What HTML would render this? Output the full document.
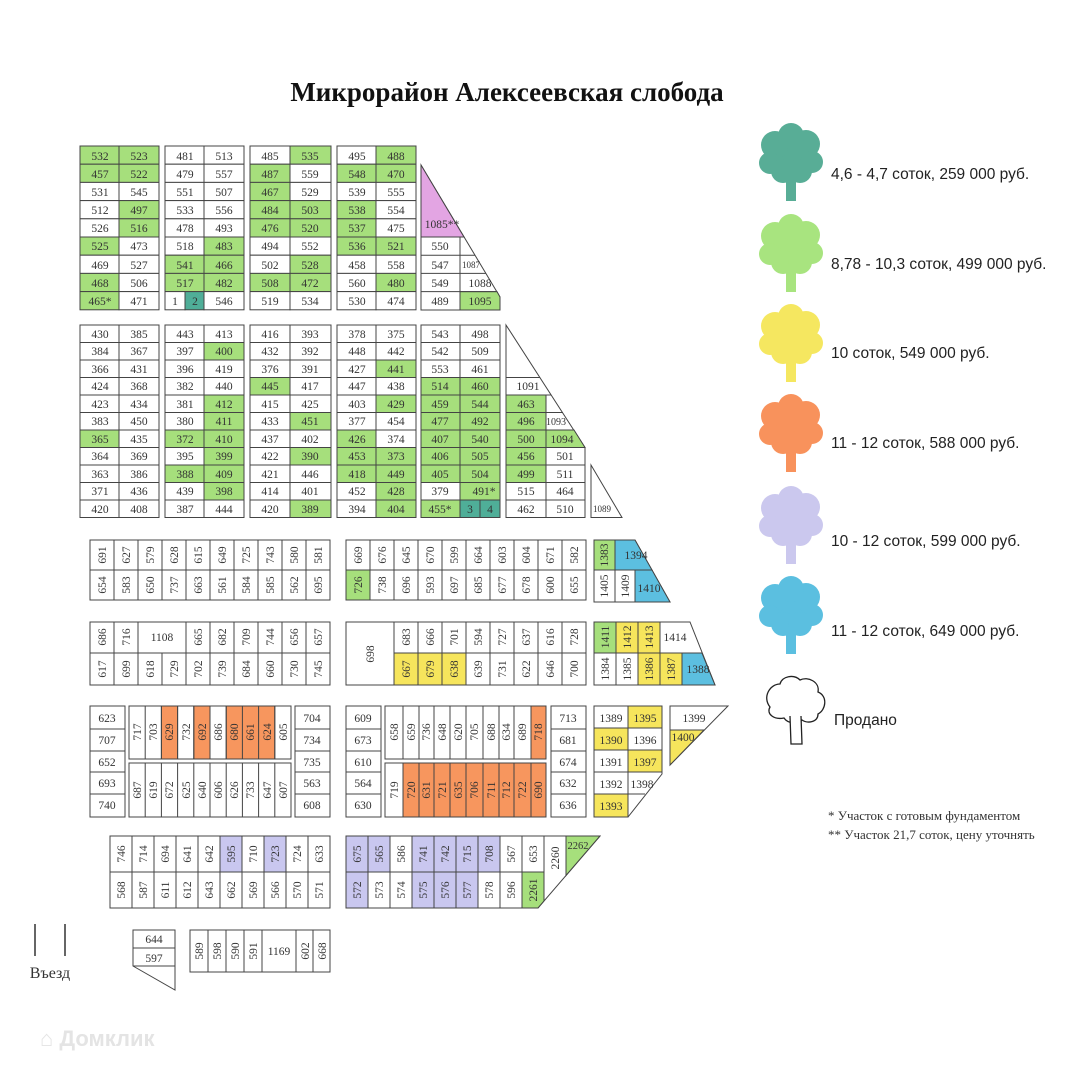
<!DOCTYPE html>
<html><head><meta charset="utf-8"><style>
body{margin:0;background:#fff}
svg{display:block}
rect,polygon{fill:#fff;stroke:#444;stroke-width:1}
.g{fill:#a6df7c}.t{fill:#4fae98}.p{fill:#e3a5e3}.y{fill:#f6e55c}.o{fill:#f7965e}.l{fill:#c9c7ef}.b{fill:#5cbfe0}
text{font-family:"Liberation Serif",serif;font-size:11.5px;text-anchor:middle;fill:#333}
.lg{font-family:"Liberation Sans",sans-serif;font-size:15.5px;text-anchor:start;fill:#222}
.s{font-size:9px}
</style></head><body>
<svg width="1080" height="1080" viewBox="0 0 1080 1080" xmlns="http://www.w3.org/2000/svg">
<text x="507" y="101" style="font-family:'Liberation Serif',serif;font-size:27px;font-weight:bold;fill:#111">Микрорайон Алексеевская слобода</text>

<!-- Section 1 -->
<g>
<rect class="g" x="80" y="146" width="39" height="18.2"/><rect class="g" x="119" y="146" width="40" height="18.2"/>
<rect class="g" x="80" y="164.2" width="39" height="18.2"/><rect class="g" x="119" y="164.2" width="40" height="18.2"/>
<rect x="80" y="182.4" width="39" height="18.2"/><rect x="119" y="182.4" width="40" height="18.2"/>
<rect x="80" y="200.6" width="39" height="18.2"/><rect class="g" x="119" y="200.6" width="40" height="18.2"/>
<rect x="80" y="218.8" width="39" height="18.2"/><rect class="g" x="119" y="218.8" width="40" height="18.2"/>
<rect class="g" x="80" y="237" width="39" height="18.2"/><rect x="119" y="237" width="40" height="18.2"/>
<rect x="80" y="255.2" width="39" height="18.2"/><rect x="119" y="255.2" width="40" height="18.2"/>
<rect class="g" x="80" y="273.4" width="39" height="18.2"/><rect x="119" y="273.4" width="40" height="18.2"/>
<rect class="g" x="80" y="291.6" width="39" height="18.2"/><rect x="119" y="291.6" width="40" height="18.2"/>
<text x="100" y="160">532</text><text x="139" y="160">523</text>
<text x="100" y="178">457</text><text x="139" y="178">522</text>
<text x="100" y="196">531</text><text x="139" y="196">545</text>
<text x="100" y="214">512</text><text x="139" y="214">497</text>
<text x="100" y="232">526</text><text x="139" y="232">516</text>
<text x="100" y="250">525</text><text x="139" y="250">473</text>
<text x="100" y="269">469</text><text x="139" y="269">527</text>
<text x="100" y="287">468</text><text x="139" y="287">506</text>
<text x="100" y="305">465*</text><text x="139" y="305">471</text>

<rect x="165" y="146" width="39" height="18.2"/><rect x="204" y="146" width="40" height="18.2"/>
<rect x="165" y="164.2" width="39" height="18.2"/><rect x="204" y="164.2" width="40" height="18.2"/>
<rect x="165" y="182.4" width="39" height="18.2"/><rect x="204" y="182.4" width="40" height="18.2"/>
<rect x="165" y="200.6" width="39" height="18.2"/><rect x="204" y="200.6" width="40" height="18.2"/>
<rect x="165" y="218.8" width="39" height="18.2"/><rect x="204" y="218.8" width="40" height="18.2"/>
<rect x="165" y="237" width="39" height="18.2"/><rect class="g" x="204" y="237" width="40" height="18.2"/>
<rect class="g" x="165" y="255.2" width="39" height="18.2"/><rect class="g" x="204" y="255.2" width="40" height="18.2"/>
<rect class="g" x="165" y="273.4" width="39" height="18.2"/><rect class="g" x="204" y="273.4" width="40" height="18.2"/>
<rect x="165" y="291.6" width="20" height="18.2"/><rect class="t" x="185" y="291.6" width="19" height="18.2"/><rect x="204" y="291.6" width="40" height="18.2"/>
<text x="185" y="160">481</text><text x="224" y="160">513</text>
<text x="185" y="178">479</text><text x="224" y="178">557</text>
<text x="185" y="196">551</text><text x="224" y="196">507</text>
<text x="185" y="214">533</text><text x="224" y="214">556</text>
<text x="185" y="232">478</text><text x="224" y="232">493</text>
<text x="185" y="250">518</text><text x="224" y="250">483</text>
<text x="185" y="269">541</text><text x="224" y="269">466</text>
<text x="185" y="287">517</text><text x="224" y="287">482</text>
<text x="175" y="305">1</text><text x="195" y="305">2</text><text x="224" y="305">546</text>

<rect x="250" y="146" width="40" height="18.2"/><rect class="g" x="290" y="146" width="41" height="18.2"/>
<rect class="g" x="250" y="164.2" width="40" height="18.2"/><rect x="290" y="164.2" width="41" height="18.2"/>
<rect class="g" x="250" y="182.4" width="40" height="18.2"/><rect x="290" y="182.4" width="41" height="18.2"/>
<rect class="g" x="250" y="200.6" width="40" height="18.2"/><rect class="g" x="290" y="200.6" width="41" height="18.2"/>
<rect class="g" x="250" y="218.8" width="40" height="18.2"/><rect class="g" x="290" y="218.8" width="41" height="18.2"/>
<rect x="250" y="237" width="40" height="18.2"/><rect x="290" y="237" width="41" height="18.2"/>
<rect x="250" y="255.2" width="40" height="18.2"/><rect class="g" x="290" y="255.2" width="41" height="18.2"/>
<rect class="g" x="250" y="273.4" width="40" height="18.2"/><rect class="g" x="290" y="273.4" width="41" height="18.2"/>
<rect x="250" y="291.6" width="40" height="18.2"/><rect x="290" y="291.6" width="41" height="18.2"/>
<text x="270" y="160">485</text><text x="310" y="160">535</text>
<text x="270" y="178">487</text><text x="310" y="178">559</text>
<text x="270" y="196">467</text><text x="310" y="196">529</text>
<text x="270" y="214">484</text><text x="310" y="214">503</text>
<text x="270" y="232">476</text><text x="310" y="232">520</text>
<text x="270" y="250">494</text><text x="310" y="250">552</text>
<text x="270" y="269">502</text><text x="310" y="269">528</text>
<text x="270" y="287">508</text><text x="310" y="287">472</text>
<text x="270" y="305">519</text><text x="310" y="305">534</text>

<rect x="337" y="146" width="39" height="18.2"/><rect class="g" x="376" y="146" width="40" height="18.2"/>
<rect class="g" x="337" y="164.2" width="39" height="18.2"/><rect class="g" x="376" y="164.2" width="40" height="18.2"/>
<rect x="337" y="182.4" width="39" height="18.2"/><rect x="376" y="182.4" width="40" height="18.2"/>
<rect class="g" x="337" y="200.6" width="39" height="18.2"/><rect x="376" y="200.6" width="40" height="18.2"/>
<rect class="g" x="337" y="218.8" width="39" height="18.2"/><rect x="376" y="218.8" width="40" height="18.2"/>
<rect class="g" x="337" y="237" width="39" height="18.2"/><rect class="g" x="376" y="237" width="40" height="18.2"/>
<rect x="337" y="255.2" width="39" height="18.2"/><rect x="376" y="255.2" width="40" height="18.2"/>
<rect x="337" y="273.4" width="39" height="18.2"/><rect class="g" x="376" y="273.4" width="40" height="18.2"/>
<rect x="337" y="291.6" width="39" height="18.2"/><rect x="376" y="291.6" width="40" height="18.2"/>
<text x="357" y="160">495</text><text x="396" y="160">488</text>
<text x="357" y="178">548</text><text x="396" y="178">470</text>
<text x="357" y="196">539</text><text x="396" y="196">555</text>
<text x="357" y="214">538</text><text x="396" y="214">554</text>
<text x="357" y="232">537</text><text x="396" y="232">475</text>
<text x="357" y="250">536</text><text x="396" y="250">521</text>
<text x="357" y="269">458</text><text x="396" y="269">558</text>
<text x="357" y="287">560</text><text x="396" y="287">480</text>
<text x="357" y="305">530</text><text x="396" y="305">474</text>

<polygon points="421,165 500,297 500,310 421,310"/>
<polygon class="p" points="421,165 464,237 421,237"/>
<polygon class="g" points="460,291.6 497,291.6 500,297 500,310 460,310"/>
<path d="M421 255.2H475M421 273.4H486M421 291.6H497M460 237V310" stroke="#444" fill="none"/>
<text x="442" y="228">1085**</text>
<text x="440" y="250">550</text>
<text x="440" y="269">547</text><text x="471" y="268" class="s">1087</text>
<text x="440" y="287">549</text><text x="480" y="287">1088</text>
<text x="440" y="305">489</text><text x="480" y="305">1095</text>
</g>

<!-- Section 2 -->
<g>
<rect x="80" y="325" width="79" height="192.5"/><path d="M119 325V517.5M80 342.5H159M80 360H159M80 377.5H159M80 395H159M80 412.5H159M80 430H159M80 447.5H159M80 465H159M80 482.5H159M80 500H159" stroke="#444"/>
<rect class="g" x="80" y="430" width="39" height="17.5"/>
<text x="100" y="338">430</text><text x="139" y="338">385</text>
<text x="100" y="355">384</text><text x="139" y="355">367</text>
<text x="100" y="373">366</text><text x="139" y="373">431</text>
<text x="100" y="390">424</text><text x="139" y="390">368</text>
<text x="100" y="408">423</text><text x="139" y="408">434</text>
<text x="100" y="425">383</text><text x="139" y="425">450</text>
<text x="100" y="443">365</text><text x="139" y="443">435</text>
<text x="100" y="460">364</text><text x="139" y="460">369</text>
<text x="100" y="478">363</text><text x="139" y="478">386</text>
<text x="100" y="495">371</text><text x="139" y="495">436</text>
<text x="100" y="513">420</text><text x="139" y="513">408</text>

<rect x="165" y="325" width="79" height="192.5"/><path d="M204 325V517.5M165 342.5H244M165 360H244M165 377.5H244M165 395H244M165 412.5H244M165 430H244M165 447.5H244M165 465H244M165 482.5H244M165 500H244" stroke="#444"/>
<rect class="g" x="204" y="342.5" width="40" height="17.5"/>
<rect class="g" x="204" y="395" width="40" height="17.5"/>
<rect class="g" x="204" y="412.5" width="40" height="17.5"/>
<rect class="g" x="165" y="430" width="39" height="17.5"/><rect class="g" x="204" y="430" width="40" height="17.5"/>
<rect class="g" x="204" y="447.5" width="40" height="17.5"/>
<rect class="g" x="165" y="465" width="39" height="17.5"/><rect class="g" x="204" y="465" width="40" height="17.5"/>
<rect class="g" x="204" y="482.5" width="40" height="17.5"/>
<text x="185" y="338">443</text><text x="224" y="338">413</text>
<text x="185" y="355">397</text><text x="224" y="355">400</text>
<text x="185" y="373">396</text><text x="224" y="373">419</text>
<text x="185" y="390">382</text><text x="224" y="390">440</text>
<text x="185" y="408">381</text><text x="224" y="408">412</text>
<text x="185" y="425">380</text><text x="224" y="425">411</text>
<text x="185" y="443">372</text><text x="224" y="443">410</text>
<text x="185" y="460">395</text><text x="224" y="460">399</text>
<text x="185" y="478">388</text><text x="224" y="478">409</text>
<text x="185" y="495">439</text><text x="224" y="495">398</text>
<text x="185" y="513">387</text><text x="224" y="513">444</text>

<rect x="250" y="325" width="81" height="192.5"/><path d="M290 325V517.5M250 342.5H331M250 360H331M250 377.5H331M250 395H331M250 412.5H331M250 430H331M250 447.5H331M250 465H331M250 482.5H331M250 500H331" stroke="#444"/>
<rect class="g" x="250" y="377.5" width="40" height="17.5"/>
<rect class="g" x="290" y="412.5" width="41" height="17.5"/>
<rect class="g" x="290" y="447.5" width="41" height="17.5"/>
<rect class="g" x="290" y="500" width="41" height="17.5"/>
<text x="270" y="338">416</text><text x="310" y="338">393</text>
<text x="270" y="355">432</text><text x="310" y="355">392</text>
<text x="270" y="373">376</text><text x="310" y="373">391</text>
<text x="270" y="390">445</text><text x="310" y="390">417</text>
<text x="270" y="408">415</text><text x="310" y="408">425</text>
<text x="270" y="425">433</text><text x="310" y="425">451</text>
<text x="270" y="443">437</text><text x="310" y="443">402</text>
<text x="270" y="460">422</text><text x="310" y="460">390</text>
<text x="270" y="478">421</text><text x="310" y="478">446</text>
<text x="270" y="495">414</text><text x="310" y="495">401</text>
<text x="270" y="513">420</text><text x="310" y="513">389</text>

<rect x="337" y="325" width="79" height="192.5"/><path d="M376 325V517.5M337 342.5H416M337 360H416M337 377.5H416M337 395H416M337 412.5H416M337 430H416M337 447.5H416M337 465H416M337 482.5H416M337 500H416" stroke="#444"/>
<rect class="g" x="376" y="360" width="40" height="17.5"/>
<rect class="g" x="376" y="395" width="40" height="17.5"/>
<rect class="g" x="337" y="430" width="39" height="17.5"/>
<rect class="g" x="337" y="447.5" width="39" height="17.5"/><rect class="g" x="376" y="447.5" width="40" height="17.5"/>
<rect class="g" x="337" y="465" width="39" height="17.5"/><rect class="g" x="376" y="465" width="40" height="17.5"/>
<rect class="g" x="376" y="482.5" width="40" height="17.5"/>
<rect class="g" x="376" y="500" width="40" height="17.5"/>
<text x="357" y="338">378</text><text x="396" y="338">375</text>
<text x="357" y="355">448</text><text x="396" y="355">442</text>
<text x="357" y="373">427</text><text x="396" y="373">441</text>
<text x="357" y="390">447</text><text x="396" y="390">438</text>
<text x="357" y="408">403</text><text x="396" y="408">429</text>
<text x="357" y="425">377</text><text x="396" y="425">454</text>
<text x="357" y="443">426</text><text x="396" y="443">374</text>
<text x="357" y="460">453</text><text x="396" y="460">373</text>
<text x="357" y="478">418</text><text x="396" y="478">449</text>
<text x="357" y="495">452</text><text x="396" y="495">428</text>
<text x="357" y="513">394</text><text x="396" y="513">404</text>

<rect x="421" y="325" width="79" height="192.5"/>
<rect class="g" x="421" y="377.5" width="79" height="105"/>
<rect class="g" x="460" y="482.5" width="40" height="17.5"/>
<rect class="g" x="421" y="500" width="39" height="17.5"/>
<rect class="t" x="460" y="500" width="40" height="17.5"/>
<path d="M460 325V517.5M480 500V517.5M421 342.5H500M421 360H500M421 377.5H500M421 395H500M421 412.5H500M421 430H500M421 447.5H500M421 465H500M421 482.5H500M421 500H500" stroke="#444"/>
<text x="440" y="338">543</text><text x="480" y="338">498</text>
<text x="440" y="355">542</text><text x="480" y="355">509</text>
<text x="440" y="373">553</text><text x="480" y="373">461</text>
<text x="440" y="390">514</text><text x="480" y="390">460</text>
<text x="440" y="408">459</text><text x="480" y="408">544</text>
<text x="440" y="425">477</text><text x="480" y="425">492</text>
<text x="440" y="443">407</text><text x="480" y="443">540</text>
<text x="440" y="460">406</text><text x="480" y="460">505</text>
<text x="440" y="478">405</text><text x="480" y="478">504</text>
<text x="440" y="495">379</text><text x="484" y="495">491*</text>
<text x="440" y="513">455*</text><text x="470" y="513">3</text><text x="490" y="513">4</text>

<polygon points="506,325 585,447.5 585,517.5 506,517.5"/>
<rect class="g" x="506" y="395" width="40" height="87.5"/>
<polygon class="g" points="546,430 574,430 585,447.5 546,447.5"/>
<path d="M506 377.5H540M506 395H551M506 412.5H563M506 430H574M506 447.5H585M506 465H585M506 482.5H585M506 500H585M546 395V517.5" stroke="#444" fill="none"/>
<text x="528" y="390">1091</text>
<text x="526" y="408">463</text>
<text x="526" y="425">496</text><text x="556" y="425" class="s" style="font-size:10px">1093</text>
<text x="526" y="443">500</text><text x="562" y="443">1094</text>
<text x="526" y="460">456</text><text x="565" y="460">501</text>
<text x="526" y="478">499</text><text x="565" y="478">511</text>
<text x="526" y="495">515</text><text x="565" y="495">464</text>
<text x="526" y="513">462</text><text x="565" y="513">510</text>
<polygon points="591,465 622,517.5 591,517.5"/>
<text x="602" y="512" class="s">1089</text>
</g>

<!-- Section 3 row 1 -->
<g>
<rect x="90" y="540" width="240" height="60"/>
<path d="M90 570H330M114 540V600M138 540V600M162 540V600M186 540V600M210 540V600M234 540V600M258 540V600M282 540V600M306 540V600" stroke="#444"/>
<text transform="translate(106 555) rotate(-90)">691</text><text transform="translate(130 555) rotate(-90)">627</text><text transform="translate(154 555) rotate(-90)">579</text><text transform="translate(178 555) rotate(-90)">628</text><text transform="translate(202 555) rotate(-90)">615</text><text transform="translate(226 555) rotate(-90)">649</text><text transform="translate(250 555) rotate(-90)">725</text><text transform="translate(274 555) rotate(-90)">743</text><text transform="translate(298 555) rotate(-90)">580</text><text transform="translate(322 555) rotate(-90)">581</text>
<text transform="translate(106 585) rotate(-90)">654</text><text transform="translate(130 585) rotate(-90)">583</text><text transform="translate(154 585) rotate(-90)">650</text><text transform="translate(178 585) rotate(-90)">737</text><text transform="translate(202 585) rotate(-90)">663</text><text transform="translate(226 585) rotate(-90)">561</text><text transform="translate(250 585) rotate(-90)">584</text><text transform="translate(274 585) rotate(-90)">585</text><text transform="translate(298 585) rotate(-90)">562</text><text transform="translate(322 585) rotate(-90)">695</text>
<rect x="346" y="540" width="240" height="60"/>
<rect class="g" x="346" y="570" width="24" height="30"/>
<path d="M346 570H586M370 540V600M394 540V600M418 540V600M442 540V600M466 540V600M490 540V600M514 540V600M538 540V600M562 540V600" stroke="#444"/>
<text transform="translate(362 555) rotate(-90)">669</text><text transform="translate(386 555) rotate(-90)">676</text><text transform="translate(410 555) rotate(-90)">645</text><text transform="translate(434 555) rotate(-90)">670</text><text transform="translate(458 555) rotate(-90)">599</text><text transform="translate(482 555) rotate(-90)">664</text><text transform="translate(506 555) rotate(-90)">603</text><text transform="translate(530 555) rotate(-90)">604</text><text transform="translate(554 555) rotate(-90)">671</text><text transform="translate(578 555) rotate(-90)">582</text>
<text transform="translate(362 585) rotate(-90)">726</text><text transform="translate(386 585) rotate(-90)">738</text><text transform="translate(410 585) rotate(-90)">696</text><text transform="translate(434 585) rotate(-90)">593</text><text transform="translate(458 585) rotate(-90)">697</text><text transform="translate(482 585) rotate(-90)">685</text><text transform="translate(506 585) rotate(-90)">677</text><text transform="translate(530 585) rotate(-90)">678</text><text transform="translate(554 585) rotate(-90)">600</text><text transform="translate(578 585) rotate(-90)">655</text>

<polygon points="594,540 635,540 670,602 594,602"/>
<rect class="g" x="594" y="540" width="21" height="30"/>
<polygon class="b" points="615,540 635,540 652,570 615,570"/>
<polygon class="b" points="635,570 652,570 670,602 635,602"/>
<path d="M594 570H652M615 540V602" stroke="#444"/>
<text transform="translate(608 555) rotate(-90)">1383</text><text x="636" y="559">1394</text>
<text transform="translate(608 586) rotate(-90)">1405</text><text transform="translate(629 586) rotate(-90)">1409</text><text x="649" y="592">1410</text>
</g>

<!-- Section 3 row 2 -->
<g>
<rect x="90" y="622" width="240" height="63"/>
<path d="M90 653H330M114 622V685M138 622V685M162 653V685M186 622V685M210 622V685M234 622V685M258 622V685M282 622V685M306 622V685" stroke="#444"/>
<text transform="translate(106 637) rotate(-90)">686</text><text transform="translate(130 637) rotate(-90)">716</text><text x="162" y="641">1108</text><text transform="translate(202 637) rotate(-90)">665</text><text transform="translate(226 637) rotate(-90)">682</text><text transform="translate(250 637) rotate(-90)">709</text><text transform="translate(274 637) rotate(-90)">744</text><text transform="translate(298 637) rotate(-90)">656</text><text transform="translate(322 637) rotate(-90)">657</text>
<text transform="translate(106 669) rotate(-90)">617</text><text transform="translate(130 669) rotate(-90)">699</text><text transform="translate(154 669) rotate(-90)">618</text><text transform="translate(178 669) rotate(-90)">729</text><text transform="translate(202 669) rotate(-90)">702</text><text transform="translate(226 669) rotate(-90)">739</text><text transform="translate(250 669) rotate(-90)">684</text><text transform="translate(274 669) rotate(-90)">660</text><text transform="translate(298 669) rotate(-90)">730</text><text transform="translate(322 669) rotate(-90)">745</text>

<rect x="346" y="622" width="240" height="63"/>
<rect class="y" x="394" y="653" width="72" height="32"/>
<path d="M394 653H586M394 622V685M418 622V685M442 622V685M466 622V685M490 622V685M514 622V685M538 622V685M562 622V685" stroke="#444"/>
<text transform="translate(374 654) rotate(-90)">698</text>
<text transform="translate(410 637) rotate(-90)">683</text><text transform="translate(434 637) rotate(-90)">666</text><text transform="translate(458 637) rotate(-90)">701</text><text transform="translate(482 637) rotate(-90)">594</text><text transform="translate(506 637) rotate(-90)">727</text><text transform="translate(530 637) rotate(-90)">637</text><text transform="translate(554 637) rotate(-90)">616</text><text transform="translate(578 637) rotate(-90)">728</text>
<text transform="translate(410 669) rotate(-90)">667</text><text transform="translate(434 669) rotate(-90)">679</text><text transform="translate(458 669) rotate(-90)">638</text><text transform="translate(482 669) rotate(-90)">639</text><text transform="translate(506 669) rotate(-90)">731</text><text transform="translate(530 669) rotate(-90)">622</text><text transform="translate(554 669) rotate(-90)">646</text><text transform="translate(578 669) rotate(-90)">700</text>

<polygon points="594,622 690,622 715,685 594,685"/>
<rect class="g" x="594" y="622" width="22" height="31"/>
<rect class="y" x="616" y="622" width="44" height="31"/>
<rect class="y" x="638" y="653" width="44" height="32"/>
<polygon class="b" points="682,653 702,653 715,685 682,685"/>
<path d="M594 653H702M616 622V685M638 622V685M660 622V685" stroke="#444"/>
<text transform="translate(609 637) rotate(-90)">1411</text><text transform="translate(631 637) rotate(-90)">1412</text><text transform="translate(653 637) rotate(-90)">1413</text><text x="675" y="641">1414</text>
<text transform="translate(609 669) rotate(-90)">1384</text><text transform="translate(631 669) rotate(-90)">1385</text><text transform="translate(653 669) rotate(-90)">1386</text><text transform="translate(675 669) rotate(-90)">1387</text><text x="698" y="673">1388</text>
</g>

<!-- Section 3 row 3 -->
<g>
<rect x="90" y="706" width="35" height="111"/>
<path d="M90 729H125M90 751H125M90 772H125M90 794H125" stroke="#444"/>
<text x="107" y="722">623</text><text x="107" y="744">707</text><text x="107" y="766">652</text><text x="107" y="787">693</text><text x="107" y="809">740</text>

<rect x="129" y="706" width="162" height="53"/>
<rect class="o" x="161.4" y="706" width="16.2" height="53"/>
<rect class="o" x="193.8" y="706" width="16.2" height="53"/>
<rect class="o" x="226.2" y="706" width="48.6" height="53"/>
<path d="M145.2 706V759M161.4 706V759M177.6 706V759M193.8 706V759M210 706V759M226.2 706V759M242.4 706V759M258.6 706V759M274.8 706V759" stroke="#444"/>
<text transform="translate(141 732) rotate(-90)">717</text><text transform="translate(157 732) rotate(-90)">703</text><text transform="translate(173 732) rotate(-90)">629</text><text transform="translate(190 732) rotate(-90)">732</text><text transform="translate(206 732) rotate(-90)">692</text><text transform="translate(222 732) rotate(-90)">686</text><text transform="translate(238 732) rotate(-90)">680</text><text transform="translate(254 732) rotate(-90)">661</text><text transform="translate(271 732) rotate(-90)">624</text><text transform="translate(287 732) rotate(-90)">605</text>
<rect x="129" y="763" width="162" height="54"/>
<path d="M145.2 763V817M161.4 763V817M177.6 763V817M193.8 763V817M210 763V817M226.2 763V817M242.4 763V817M258.6 763V817M274.8 763V817" stroke="#444"/>
<text transform="translate(141 790) rotate(-90)">687</text><text transform="translate(157 790) rotate(-90)">619</text><text transform="translate(173 790) rotate(-90)">672</text><text transform="translate(190 790) rotate(-90)">625</text><text transform="translate(206 790) rotate(-90)">640</text><text transform="translate(222 790) rotate(-90)">606</text><text transform="translate(238 790) rotate(-90)">626</text><text transform="translate(254 790) rotate(-90)">733</text><text transform="translate(271 790) rotate(-90)">647</text><text transform="translate(287 790) rotate(-90)">607</text>

<rect x="295" y="706" width="35" height="111"/>
<path d="M295 729H330M295 751H330M295 772H330M295 794H330" stroke="#444"/>
<text x="312" y="722">704</text><text x="312" y="744">734</text><text x="312" y="766">735</text><text x="312" y="787">563</text><text x="312" y="809">608</text>

<rect x="346" y="706" width="35" height="111"/>
<path d="M346 729H381M346 751H381M346 772H381M346 794H381" stroke="#444"/>
<text x="363" y="722">609</text><text x="363" y="744">673</text><text x="363" y="766">610</text><text x="363" y="787">564</text><text x="363" y="809">630</text>

<rect x="385" y="706" width="161" height="53"/>
<rect class="o" x="531" y="706" width="15" height="53"/>
<path d="M403 706V759M419 706V759M434 706V759M450 706V759M466 706V759M483 706V759M499 706V759M514 706V759M531 706V759" stroke="#444"/>
<text transform="translate(398 732) rotate(-90)">658</text><text transform="translate(415 732) rotate(-90)">659</text><text transform="translate(430 732) rotate(-90)">736</text><text transform="translate(446 732) rotate(-90)">648</text><text transform="translate(462 732) rotate(-90)">620</text><text transform="translate(478 732) rotate(-90)">705</text><text transform="translate(495 732) rotate(-90)">688</text><text transform="translate(510 732) rotate(-90)">634</text><text transform="translate(526 732) rotate(-90)">689</text><text transform="translate(542 732) rotate(-90)">718</text>
<rect x="385" y="763" width="161" height="54"/>
<rect class="o" x="403" y="763" width="143" height="54"/>
<path d="M403 763V817M419 763V817M434 763V817M450 763V817M466 763V817M483 763V817M499 763V817M514 763V817M531 763V817" stroke="#444"/>
<text transform="translate(398 790) rotate(-90)">719</text><text transform="translate(415 790) rotate(-90)">720</text><text transform="translate(430 790) rotate(-90)">631</text><text transform="translate(446 790) rotate(-90)">721</text><text transform="translate(462 790) rotate(-90)">635</text><text transform="translate(478 790) rotate(-90)">706</text><text transform="translate(495 790) rotate(-90)">711</text><text transform="translate(510 790) rotate(-90)">712</text><text transform="translate(526 790) rotate(-90)">722</text><text transform="translate(542 790) rotate(-90)">690</text>

<rect x="551" y="706" width="35" height="111"/>
<path d="M551 729H586M551 751H586M551 772H586M551 794H586" stroke="#444"/>
<text x="568" y="722">713</text><text x="568" y="744">681</text><text x="568" y="766">674</text><text x="568" y="787">632</text><text x="568" y="809">636</text>

<polygon points="594,706 662,706 662,774 628,817 594,817"/>
<rect class="y" x="628" y="706" width="34" height="22"/>
<rect class="y" x="594" y="728" width="34" height="22"/>
<rect class="y" x="628" y="750" width="34" height="22"/>
<rect class="y" x="594" y="794" width="34" height="23"/>
<path d="M594 728H662M594 750H662M594 772H662M594 794H645M628 706V817" stroke="#444" fill="none"/>
<text x="611" y="722">1389</text><text x="645" y="722">1395</text>
<text x="611" y="744">1390</text><text x="645" y="744">1396</text>
<text x="611" y="766">1391</text><text x="645" y="766">1397</text>
<text x="611" y="788">1392</text><text x="642" y="788">1398</text>
<text x="611" y="810">1393</text>

<polygon points="670,706 728,706 670,765"/>
<polygon class="y" points="670,730 704,730 670,765"/>
<text x="694" y="722">1399</text><text x="683" y="741">1400</text>
</g>

<!-- Section 4 -->
<g>
<rect x="110" y="836" width="220" height="72"/>
<rect class="l" x="220" y="836" width="22" height="36"/>
<rect class="l" x="264" y="836" width="22" height="36"/>
<path d="M110 872H330M132 836V908M154 836V908M176 836V908M198 836V908M220 836V908M242 836V908M264 836V908M286 836V908M308 836V908" stroke="#444"/>
<text transform="translate(125 854) rotate(-90)">746</text><text transform="translate(147 854) rotate(-90)">714</text><text transform="translate(169 854) rotate(-90)">694</text><text transform="translate(191 854) rotate(-90)">641</text><text transform="translate(213 854) rotate(-90)">642</text><text transform="translate(235 854) rotate(-90)">595</text><text transform="translate(257 854) rotate(-90)">710</text><text transform="translate(279 854) rotate(-90)">723</text><text transform="translate(301 854) rotate(-90)">724</text><text transform="translate(323 854) rotate(-90)">633</text>
<text transform="translate(125 890) rotate(-90)">568</text><text transform="translate(147 890) rotate(-90)">587</text><text transform="translate(169 890) rotate(-90)">611</text><text transform="translate(191 890) rotate(-90)">612</text><text transform="translate(213 890) rotate(-90)">643</text><text transform="translate(235 890) rotate(-90)">662</text><text transform="translate(257 890) rotate(-90)">569</text><text transform="translate(279 890) rotate(-90)">566</text><text transform="translate(301 890) rotate(-90)">570</text><text transform="translate(323 890) rotate(-90)">571</text>

<polygon points="346,836 600,836 538,908 346,908"/>
<rect class="l" x="346" y="836" width="44" height="36"/>
<rect class="l" x="346" y="872" width="22" height="36"/>
<rect class="l" x="412" y="836" width="88" height="36"/>
<rect class="l" x="412" y="872" width="66" height="36"/>
<polygon class="g" points="522,872 544,872 544,901 538,908 522,908"/>
<polygon class="g" points="566,836 600,836 566,875.5"/>
<path d="M346 872H544M368 836V908M390 836V908M412 836V908M434 836V908M456 836V908M478 836V908M500 836V908M522 836V908M544 836V901M566 836V875.5" stroke="#444" fill="none"/>
<text transform="translate(361 854) rotate(-90)">675</text><text transform="translate(383 854) rotate(-90)">565</text><text transform="translate(405 854) rotate(-90)">586</text><text transform="translate(427 854) rotate(-90)">741</text><text transform="translate(449 854) rotate(-90)">742</text><text transform="translate(471 854) rotate(-90)">715</text><text transform="translate(493 854) rotate(-90)">708</text><text transform="translate(515 854) rotate(-90)">567</text><text transform="translate(537 854) rotate(-90)">653</text><text transform="translate(559 858) rotate(-90)">2260</text>
<text transform="translate(361 890) rotate(-90)">572</text><text transform="translate(383 890) rotate(-90)">573</text><text transform="translate(405 890) rotate(-90)">574</text><text transform="translate(427 890) rotate(-90)">575</text><text transform="translate(449 890) rotate(-90)">576</text><text transform="translate(471 890) rotate(-90)">577</text><text transform="translate(493 890) rotate(-90)">578</text><text transform="translate(515 890) rotate(-90)">596</text><text transform="translate(537 890) rotate(-90)">2261</text>
<text x="578" y="849" style="font-size:10.5px">2262</text>

<polygon points="133,930 175,930 175,990 133,966"/>
<path d="M133 948H175M133 966H175" stroke="#444"/>
<text x="154" y="943">644</text><text x="154" y="962">597</text>

<rect x="190" y="930" width="140" height="42"/>
<path d="M208 930V972M226 930V972M244 930V972M262 930V972M296 930V972M313 930V972" stroke="#444"/>
<text transform="translate(203 951) rotate(-90)">589</text><text transform="translate(221 951) rotate(-90)">598</text><text transform="translate(239 951) rotate(-90)">590</text><text transform="translate(257 951) rotate(-90)">591</text><text x="279" y="955">1169</text><text transform="translate(309 951) rotate(-90)">602</text><text transform="translate(326 951) rotate(-90)">668</text>

<path d="M35 924V956M65 924V956" stroke="#333" stroke-width="1.5"/>
<text x="50" y="978" style="font-size:16px">Въезд</text>
<text x="40" y="1046" style="font-family:'Liberation Sans',sans-serif;font-size:22px;text-anchor:start;fill:#e4e4e4;font-weight:bold">⌂ Домклик</text>
</g>

<!-- Legend -->
<defs>
<g id="tree">
<circle cx="0" cy="-2" r="23"/><circle cx="-16" cy="-12" r="14"/><circle cx="15" cy="-13" r="14"/><circle cx="-21" cy="6" r="11"/><circle cx="21" cy="5" r="11"/><circle cx="0" cy="-21" r="13"/><circle cx="-8" cy="14" r="12"/><circle cx="9" cy="14" r="12"/>
<path d="M-5 20 L5 20 L5 44 L-5 44Z"/>
</g>
</defs>
<use href="#tree" x="791" y="157" fill="#58ad96"/>
<use href="#tree" x="791" y="248" fill="#a8e47f"/>
<use href="#tree" x="791" y="338" fill="#f5e760"/>
<use href="#tree" x="791" y="428" fill="#f8925c"/>
<use href="#tree" x="791" y="520" fill="#cbc8ee"/>
<use href="#tree" x="791" y="610" fill="#5bbfe0"/>
<g transform="translate(796 702)" fill="#fff" stroke="#222" stroke-width="1.3">
<path d="M-26 5 C-34 -5 -26 -18 -16 -18 C-14 -26 -2 -28 4 -22 C12 -26 24 -20 22 -10 C32 -6 30 8 22 12 C22 20 12 22 6 18 C2 22 -8 22 -12 16 C-22 18 -30 12 -26 5Z"/>
<path d="M-6 14 L-5 42 L6 42 L5 14"/>
</g>
<text class="lg" x="831" y="179">4,6 - 4,7 соток, 259 000 руб.</text>
<text class="lg" x="831" y="269">8,78 - 10,3  соток, 499 000 руб.</text>
<text class="lg" x="831" y="358">10 соток, 549 000 руб.</text>
<text class="lg" x="831" y="448">11 - 12 соток, 588 000 руб.</text>
<text class="lg" x="831" y="546">10 - 12 соток, 599 000 руб.</text>
<text class="lg" x="831" y="636">11 - 12 соток, 649 000 руб.</text>
<text class="lg" x="834" y="725">Продано</text>
<text x="828" y="820" style="font-size:13px;text-anchor:start">*   Участок с готовым  фундаментом</text>
<text x="828" y="839" style="font-size:13px;text-anchor:start">** Участок 21,7 соток, цену уточнять</text>
</svg>
</body></html>
